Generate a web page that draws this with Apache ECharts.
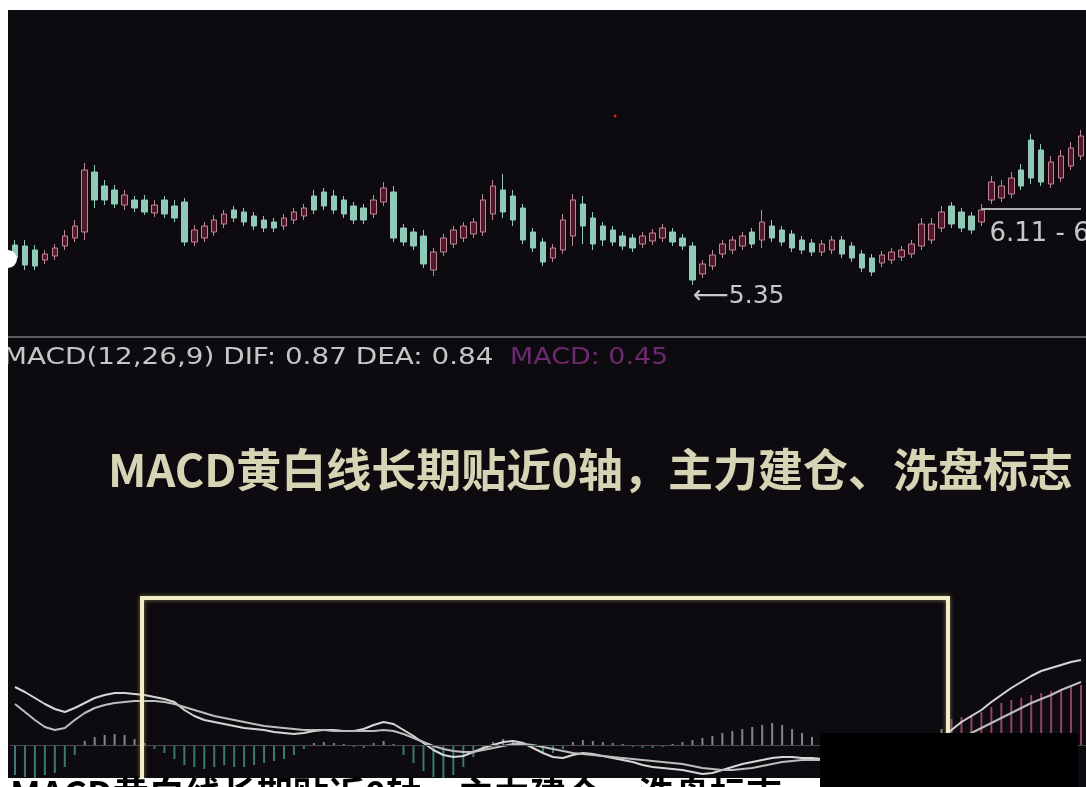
<!DOCTYPE html>
<html><head><meta charset="utf-8">
<script src="https://cdn.jsdelivr.net/npm/echarts/dist/echarts.min.js"></script>
<style>html,body{margin:0;padding:0;background:#fff;overflow:hidden}#c{width:1086px;height:787px;}</style>
</head><body><div id="c"></div>
<script>
// [open, close, low, high]
const candles = [
[5.75,5.62,5.58,5.80],[5.74,5.55,5.50,5.80],[5.70,5.54,5.50,5.75],[5.60,5.66,5.56,5.70],[5.64,5.72,5.60,5.76],
[5.74,5.84,5.70,5.90],[5.82,5.94,5.78,6.00],[5.88,6.50,5.80,6.57],[6.48,6.20,6.12,6.55],[6.34,6.20,6.15,6.40],
[6.30,6.16,6.12,6.35],[6.15,6.25,6.10,6.30],[6.20,6.12,6.08,6.24],[6.20,6.08,6.05,6.25],[6.07,6.15,6.03,6.20],
[6.20,6.06,6.02,6.24],[6.14,6.02,5.98,6.20],[6.18,5.78,5.74,6.22],[5.78,5.90,5.74,5.95],[5.82,5.94,5.78,5.98],
[5.88,6.00,5.84,6.05],[5.96,6.06,5.92,6.10],[6.10,6.02,5.98,6.14],[6.08,5.98,5.94,6.12],[6.04,5.94,5.90,6.08],
[6.00,5.92,5.88,6.04],[5.98,5.92,5.88,6.02],[5.94,6.02,5.90,6.06],[6.00,6.08,5.96,6.12],[6.04,6.12,6.00,6.16],
[6.24,6.10,6.06,6.30],[6.28,6.14,6.10,6.32],[6.24,6.10,6.06,6.30],[6.20,6.06,6.02,6.24],[6.14,6.00,5.96,6.18],
[6.12,6.00,5.96,6.16],[6.06,6.20,6.02,6.25],[6.18,6.32,6.14,6.38],[6.28,5.82,5.78,6.34],[5.92,5.78,5.74,5.96],
[5.88,5.74,5.70,5.92],[5.84,5.56,5.52,5.90],[5.50,5.68,5.44,5.72],[5.68,5.82,5.64,5.86],[5.76,5.90,5.72,5.94],
[5.82,5.94,5.78,5.98],[5.86,5.98,5.82,6.02],[5.88,6.20,5.84,6.26],[6.06,6.34,6.00,6.40],[6.30,6.08,6.02,6.46],
[6.24,6.00,5.94,6.30],[6.12,5.80,5.76,6.16],[5.88,5.72,5.68,5.92],[5.78,5.58,5.54,5.82],[5.62,5.72,5.58,5.76],
[5.70,6.00,5.66,6.06],[5.84,6.20,5.74,6.26],[6.16,5.94,5.76,6.24],[6.02,5.76,5.70,6.08],[5.94,5.80,5.74,5.98],
[5.90,5.78,5.74,5.94],[5.84,5.74,5.70,5.88],[5.82,5.72,5.68,5.86],[5.76,5.84,5.72,5.88],[5.79,5.87,5.75,5.91],
[5.82,5.92,5.78,5.96],[5.88,5.78,5.74,5.92],[5.82,5.74,5.70,5.86],[5.74,5.40,5.35,5.78],[5.46,5.56,5.42,5.60],
[5.54,5.65,5.50,5.70],[5.66,5.76,5.62,5.80],[5.70,5.80,5.66,5.84],[5.74,5.84,5.70,5.88],[5.88,5.76,5.72,5.92],
[5.80,5.98,5.72,6.10],[5.94,5.82,5.78,6.00],[5.90,5.78,5.74,5.94],[5.86,5.72,5.68,5.90],[5.80,5.70,5.66,5.84],
[5.77,5.68,5.64,5.81],[5.68,5.76,5.64,5.80],[5.70,5.80,5.66,5.84],[5.80,5.66,5.62,5.84],[5.74,5.62,5.58,5.78],
[5.66,5.52,5.48,5.70],[5.62,5.48,5.44,5.66],[5.57,5.65,5.53,5.69],[5.60,5.68,5.56,5.72],[5.63,5.70,5.59,5.74],
[5.66,5.76,5.62,5.80],[5.74,5.96,5.70,6.02],[5.80,5.96,5.76,6.02],[5.92,6.08,5.88,6.14],[6.14,5.96,5.92,6.18],
[6.08,5.92,5.88,6.12],[6.04,5.90,5.86,6.08],[5.98,6.10,5.94,6.16],[6.20,6.38,6.16,6.44],[6.22,6.34,6.18,6.40],
[6.26,6.42,6.22,6.48],[6.50,6.34,6.30,6.56],[6.80,6.42,6.36,6.86],[6.70,6.38,6.34,6.76],[6.36,6.58,6.32,6.64],
[6.42,6.64,6.38,6.70],[6.54,6.72,6.50,6.78],[6.64,6.84,6.60,6.90]
];
const dif = [
0.58,0.53,0.47,0.41,0.36,0.33,0.37,0.42,0.47,0.50,
0.52,0.52,0.51,0.50,0.48,0.46,0.43,0.35,0.29,0.25,
0.23,0.21,0.19,0.17,0.16,0.15,0.13,0.12,0.11,0.12,
0.14,0.15,0.15,0.14,0.14,0.16,0.20,0.23,0.21,0.15,
0.09,0.02,-0.05,-0.10,-0.12,-0.11,-0.07,-0.03,0.00,0.03,
0.04,0.02,-0.03,-0.08,-0.12,-0.13,-0.10,-0.08,-0.09,-0.11,
-0.13,-0.15,-0.17,-0.20,-0.22,-0.23,-0.24,-0.25,-0.27,-0.29,
-0.28,-0.25,-0.22,-0.19,-0.17,-0.15,-0.13,-0.12,-0.12,-0.13,
-0.13,-0.14,-0.15,-0.17,-0.19,-0.20,-0.19,-0.17,-0.13,-0.09,
-0.05,-0.01,0.03,0.07,0.15,0.23,0.29,0.35,0.43,0.50,
0.57,0.63,0.69,0.74,0.77,0.80,0.83,0.85
];
const dea = [
0.41,0.33,0.25,0.18,0.15,0.17,0.25,0.32,0.37,0.40,
0.42,0.43,0.44,0.44,0.44,0.43,0.41,0.38,0.35,0.32,
0.29,0.27,0.25,0.23,0.21,0.19,0.18,0.17,0.16,0.15,
0.15,0.15,0.14,0.14,0.14,0.14,0.14,0.15,0.14,0.11,
0.07,0.03,-0.01,-0.04,-0.06,-0.07,-0.07,-0.05,-0.03,-0.01,
0.01,0.01,0.00,-0.02,-0.04,-0.06,-0.08,-0.09,-0.10,-0.11,
-0.12,-0.13,-0.14,-0.15,-0.16,-0.17,-0.18,-0.19,-0.21,-0.23,
-0.24,-0.25,-0.25,-0.24,-0.23,-0.21,-0.19,-0.17,-0.16,-0.15,
-0.15,-0.15,-0.15,-0.16,-0.17,-0.18,-0.18,-0.17,-0.16,-0.14,
-0.11,-0.08,-0.05,-0.02,0.01,0.07,0.12,0.17,0.22,0.27,
0.32,0.37,0.42,0.46,0.50,0.55,0.59,0.63
];
const macdHist = [
-0.30,-0.32,-0.33,-0.30,-0.28,-0.22,-0.10,0.04,0.08,0.10,
0.11,0.10,0.06,0.02,-0.04,-0.08,-0.14,-0.20,-0.22,-0.24,
-0.22,-0.20,-0.22,-0.22,-0.20,-0.18,-0.16,-0.14,-0.10,-0.04,
0.02,0.03,0.02,0.01,-0.02,-0.03,0.02,0.04,0.01,-0.10,
-0.18,-0.26,-0.32,-0.34,-0.30,-0.22,-0.12,-0.04,0.03,0.06,
0.05,0.02,-0.04,-0.08,-0.08,-0.04,0.03,0.05,0.04,0.03,
0.02,0.01,-0.02,-0.03,-0.03,-0.02,0.01,0.03,0.05,0.07,
0.09,0.12,0.14,0.16,0.18,0.20,0.22,0.20,0.16,0.12,
0.08,0.05,0.02,-0.02,-0.05,-0.08,-0.09,-0.07,-0.04,0.00,
0.04,0.08,0.12,0.16,0.26,0.28,0.30,0.33,0.38,0.42,
0.45,0.47,0.50,0.52,0.54,0.56,0.58,0.60
];
const categories = candles.map((_, i) => 'D' + (i + 1));
const lowIndex = 68, lowValue = 5.35;
const rangeStart = 97, rangeEnd = 107, rangeValue = 6.11, rangeText = '6.11 - 6';
const headerText = 'MACD(12,26,9) DIF: 0.87 DEA: 0.84';
const headerMacd = 'MACD: 0.45';
const caption = 'MACD黄白线长期贴近0轴，主力建仓、洗盘标志';

const chart = echarts.init(document.getElementById('c'));
const cjk = '"Noto Sans CJK SC", sans-serif';
const dv = '"DejaVu Sans", sans-serif';
chart.setOption({
  backgroundColor: '#0d0b0f',
  animation: false,
  grid: [
    {left: 10, right: 0, top: 10, height: 328},
    {left: 10, right: 0, top: 600, height: 187}
  ],
  xAxis: [
    {type: 'category', gridIndex: 0, data: categories, show: false},
    {type: 'category', gridIndex: 1, data: categories, show: false}
  ],
  yAxis: [
    {type: 'value', gridIndex: 0, min: 4.82, max: 8.10, show: false},
    {type: 'value', gridIndex: 1, min: -0.42, max: 1.45, show: false}
  ],
  series: [
    {
      type: 'candlestick', xAxisIndex: 0, yAxisIndex: 0, data: candles, barWidth: 6,
      itemStyle: {color: '#4e1a2a', color0: '#8fcab9', borderColor: '#c08496', borderColor0: '#8fcab9', borderWidth: 1},
      markPoint: {
        symbol: 'circle', symbolSize: 1, itemStyle: {color: 'rgba(0,0,0,0)'},
        label: {show: true, position: 'right', distance: 0, offset: [0, 11], color: '#c8c8c8', fontSize: 25, fontFamily: dv,
          formatter: () => '\u27f5' + lowValue.toFixed(2)},
        data: [{coord: [lowIndex, lowValue]}]
      },
      markLine: {
        symbol: 'none', silent: true,
        lineStyle: {color: '#b0b0b0', width: 2, type: 'solid'},
        label: {show: true, position: 'insideStartBottom', color: '#c8c8c8', fontSize: 26, fontFamily: dv, distance: [8, 12],
          formatter: () => rangeText},
        data: [[{coord: [rangeStart, rangeValue]}, {coord: [rangeEnd, rangeValue]}]]
      }
    },
    {
      type: 'bar', xAxisIndex: 1, yAxisIndex: 1, data: macdHist, barWidth: 2,
      itemStyle: {color: p => p.value < 0 ? '#3a7a70' : (p.dataIndex >= 94 ? '#8e4462' : '#858585')},
      markLine: {symbol: 'none', silent: true, label: {show: false},
        lineStyle: {color: '#4a4a4a', width: 1, type: 'solid'}, data: [{yAxis: 0}]}
    },
    {type: 'line', xAxisIndex: 1, yAxisIndex: 1, data: dif, symbol: 'none', lineStyle: {color: '#d6d6d6', width: 2}},
    {type: 'line', xAxisIndex: 1, yAxisIndex: 1, data: dea, symbol: 'none', lineStyle: {color: '#bdbdbd', width: 2}}
  ],
  graphic: [
    {type: 'line', z: 50, shape: {x1: 8, y1: 337, x2: 1086, y2: 337}, style: {stroke: '#5c5c5c', lineWidth: 2}},
    {type: 'text', z: 50, x: 3, y: 358, scaleX: 1.21, style: {text: headerText, fill: '#c6c6c6', font: '23px ' + dv, textVerticalAlign: 'middle', verticalAlign: 'middle'}},
    {type: 'text', z: 50, x: 510, y: 358, scaleX: 1.17, style: {text: headerMacd, fill: '#6e2a6e', font: '23px ' + dv, textVerticalAlign: 'middle', verticalAlign: 'middle'}},
    {type: 'text', z: 50, x: 108, y: 470, style: {text: caption, fill: '#d6d4b4', font: 'bold 45px ' + cjk, textVerticalAlign: 'middle', verticalAlign: 'middle'}},
    {type: 'rect', z: 60, shape: {x: 142, y: 598, width: 806, height: 300}, style: {fill: 'none', stroke: '#f0edc8', lineWidth: 4, shadowBlur: 4, shadowColor: 'rgba(200,190,120,0.6)'}},
    {type: 'circle', z: 60, shape: {cx: 615, cy: 116, r: 1.5}, style: {fill: '#e02020'}},
    {type: 'rect', z: 100, shape: {x: 0, y: 0, width: 1086, height: 10}, style: {fill: '#ffffff'}},
    {type: 'rect', z: 100, shape: {x: 0, y: 0, width: 8, height: 787}, style: {fill: '#ffffff'}},
    {type: 'circle', z: 100, shape: {cx: 8, cy: 259, r: 9}, style: {fill: '#ffffff'}},
    {type: 'rect', z: 100, shape: {x: 0, y: 778, width: 820, height: 9}, style: {fill: '#ffffff'}},
    {type: 'text', z: 101, x: 10, y: 776, style: {text: caption, fill: '#000000', font: 'bold 36px ' + cjk, textVerticalAlign: 'top', verticalAlign: 'top'}},
    {type: 'rect', z: 102, shape: {x: 820, y: 733, width: 258, height: 54}, style: {fill: '#000000'}}
  ]
});
</script></body></html>
